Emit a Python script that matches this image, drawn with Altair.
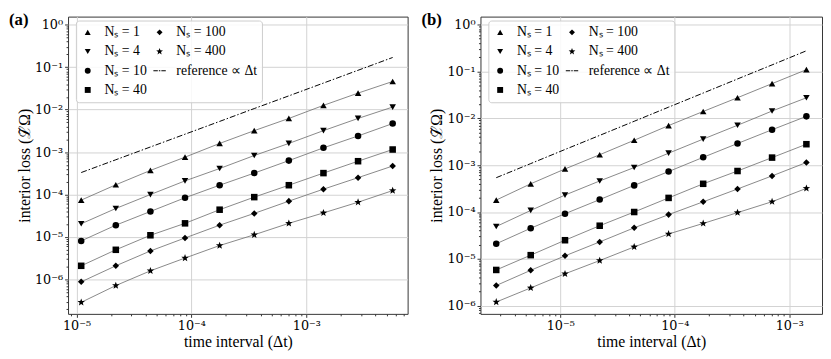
import math
import altair as alt
import pandas as pd

FONT = "Liberation Serif"
TICKFONT = "DejaVu Serif"

# ---------------- data ----------------
SERIES = ["Nₛ = 1", "Nₛ = 4", "Nₛ = 10", "Nₛ = 40", "Nₛ = 100", "Nₛ = 400"]
REF_LABEL = "reference ∝ Δt"

dt_a = [1.1e-5, 2.2e-5, 4.4e-5, 8.8e-5, 1.76e-4, 3.52e-4, 7.04e-4, 1.408e-3, 2.816e-3, 5.632e-3]
a_ns1 = [7.4e-5, 1.7e-4, 3.7e-4, 7.6e-4, 1.6e-3, 3.2e-3, 6.2e-3, 1.26e-2, 2.45e-2, 4.6e-2]
a_ns4 = [2.05e-5, 4.7e-5, 1.0e-4, 2.1e-4, 4.1e-4, 8.3e-4, 1.6e-3, 3.2e-3, 6.2e-3, 1.15e-2]
a_ns10 = [8.1e-6, 1.9e-5, 4.0e-5, 8.4e-5, 1.66e-4, 3.2e-4, 6.3e-4, 1.26e-3, 2.4e-3, 4.7e-3]
a_ns40 = [2.1e-6, 5.0e-6, 1.1e-5, 2.1e-5, 4.4e-5, 8.7e-5, 1.66e-4, 3.2e-4, 6.1e-4, 1.15e-3]
a_ns100 = [8.8e-7, 2.1e-6, 4.7e-6, 9.5e-6, 1.9e-5, 3.6e-5, 7.0e-5, 1.34e-4, 2.5e-4, 4.7e-4]
a_ns400 = [2.9e-7, 7.2e-7, 1.6e-6, 3.2e-6, 6.3e-6, 1.13e-5, 2.1e-5, 3.7e-5, 6.6e-5, 1.24e-4]
a_ref = [3.3e-4, 6.6e-4, 1.32e-3, 2.64e-3, 5.28e-3, 1.06e-2, 2.11e-2, 4.22e-2, 8.45e-2, 1.69e-1]

dt_b = [2.76e-6, 5.52e-6, 1.1e-5, 2.21e-5, 4.42e-5, 8.83e-5, 1.77e-4, 3.53e-4, 7.07e-4, 1.41e-3]
b_ns1 = [1.8e-4, 4.0e-4, 8.3e-4, 1.67e-3, 3.4e-3, 7.0e-3, 1.4e-2, 2.75e-2, 5.5e-2, 1.09e-1]
b_ns4 = [4.9e-5, 1.08e-4, 2.3e-4, 4.6e-4, 8.9e-4, 1.8e-3, 3.6e-3, 7.1e-3, 1.43e-2, 2.74e-2]
b_ns10 = [2.1e-5, 4.5e-5, 9.2e-5, 1.84e-4, 3.7e-4, 7.3e-4, 1.47e-3, 2.9e-3, 5.7e-3, 1.1e-2]
b_ns40 = [5.8e-6, 1.2e-5, 2.5e-5, 5.1e-5, 1.0e-4, 2.0e-4, 4.0e-4, 7.5e-4, 1.45e-3, 2.8e-3]
b_ns100 = [2.7e-6, 5.7e-6, 1.16e-5, 2.3e-5, 4.6e-5, 8.8e-5, 1.65e-4, 3.1e-4, 5.9e-4, 1.14e-3]
b_ns400 = [1.2e-6, 2.4e-6, 4.8e-6, 9.2e-6, 1.8e-5, 3.4e-5, 5.7e-5, 9.7e-5, 1.66e-4, 3.2e-4]
b_ref = [5.4e-4, 1.08e-3, 2.16e-3, 4.32e-3, 8.64e-3, 1.73e-2, 3.46e-2, 6.91e-2, 1.38e-1, 2.76e-1]

x_domain_a = [8.45e-6, 7.6e-3]
y_domain_a = [1.55e-7, 1.55]
x_domain_b = [2.01e-6, 1.93e-3]
y_domain_b = [6.7e-7, 1.48]

# ---------------- styling helpers ----------------
def star_path():
    pts = []
    for i in range(10):
        r = 1.2 if i % 2 == 0 else 0.5
        a = math.radians(-90 + 36 * i)
        pts.append(f"{r*math.cos(a):.3f},{r*math.sin(a):.3f}")
    return "M" + "L".join(pts) + "Z"

DASHDOT = ("M-2.1,-0.17H-0.6V0.17H-2.1Z M-0.25,-0.17H0.25V0.17H-0.25Z "
           "M0.6,-0.17H2.1V0.17H0.6Z")

LEGEND_ORDER = SERIES + [REF_LABEL]
SHAPE_OF = {
    "Nₛ = 1": "triangle-up",
    "Nₛ = 4": "triangle-down",
    "Nₛ = 10": "circle",
    "Nₛ = 40": "square",
    "Nₛ = 100": "diamond",
    "Nₛ = 400": star_path(),
    REF_LABEL: DASHDOT,
}
SUP = str.maketrans("-0123456789", "⁻⁰¹²³⁴⁵⁶⁷⁸⁹")

IS_MAJOR = "abs(log(datum.value)/LN10 - round(log(datum.value)/LN10)) < 0.001"


def pow_expr(lo, hi):
    expr = "''"
    for e in reversed(range(lo, hi + 1)):
        expr = (f"({IS_MAJOR} && round(log(datum.value)/LN10) == {e}) ? "
                f"'10{str(e).translate(SUP)}' : ({expr})")
    return expr


def tick_values(dom):
    lo = math.floor(math.log10(dom[0]))
    hi = math.ceil(math.log10(dom[1]))
    vals = []
    for e in range(lo, hi + 1):
        for m in range(1, 10):
            v = m * 10.0 ** e
            if dom[0] <= v <= dom[1]:
                vals.append(v)
    return vals, lo, hi


def log_axis(dom, title, orient):
    vals, lo, hi = tick_values(dom)
    return alt.Axis(
        values=vals, labelExpr=pow_expr(lo, hi), title=title,
        orient=orient, labelOverlap=False, labelFlush=False,
        gridOpacity={"condition": {"test": IS_MAJOR, "value": 1}, "value": 0},
        tickSize={"condition": {"test": IS_MAJOR, "value": 3.5}, "value": 2},
    )


def panel(dt, series_lists, ref, xdom, ydom, label):
    rows = []
    for name, vals in zip(SERIES, series_lists):
        for x, y in zip(dt, vals):
            rows.append({"dt": x, "loss": y, "series": name})
    df = pd.DataFrame(rows)
    ref_df = pd.DataFrame({"dt": dt, "loss": ref})

    xs = alt.Scale(type="log", domain=xdom, nice=False)
    ys = alt.Scale(type="log", domain=ydom, nice=False)

    x_main = alt.X("dt:Q", scale=xs, axis=log_axis(xdom, "time interval (Δt)", "bottom"))
    y_main = alt.Y("loss:Q", scale=ys, axis=log_axis(ydom, "interior loss (ℒ̃Ω)", "left"))

    lines = alt.Chart(df).mark_line(color="#6a6a6a", strokeWidth=0.8).encode(
        x=x_main, y=y_main, detail="series:N",
    )
    ref_line = alt.Chart(ref_df).mark_line(
        color="black", strokeWidth=1, strokeDash=[6, 2, 1.5, 2]).encode(
        x=alt.X("dt:Q", scale=xs), y=alt.Y("loss:Q", scale=ys),
    )
    points = alt.Chart(df).mark_point(filled=True, color="black", opacity=1, size=44).encode(
        x=alt.X("dt:Q", scale=xs),
        y=alt.Y("loss:Q", scale=ys),
        shape=alt.Shape("series:N",
                        scale=alt.Scale(domain=LEGEND_ORDER,
                                        range=[SHAPE_OF[k] for k in LEGEND_ORDER]),
                        legend=alt.Legend(orient="none", legendX=8, legendY=4, columns=2,
                                          title=None)),
    )
    lab = alt.Chart(pd.DataFrame({"t": [label]})).mark_text(
        font=FONT, fontSize=17, fontWeight="bold", align="left", baseline="alphabetic",
        color="black").encode(x=alt.value(-60), y=alt.value(9), text="t:N")

    return alt.layer(lines, ref_line, points, lab)


chart_a = panel(dt_a, [a_ns1, a_ns4, a_ns10, a_ns40, a_ns100, a_ns400], a_ref,
                x_domain_a, y_domain_a, "(a)").properties(width=345, height=302)
chart_b = panel(dt_b, [b_ns1, b_ns4, b_ns10, b_ns40, b_ns100, b_ns400], b_ref,
                x_domain_b, y_domain_b, "(b)").properties(width=347, height=302)

chart = alt.hconcat(chart_a, chart_b, spacing=12, padding=0).resolve_scale(
    x="independent", y="independent", shape="independent").resolve_legend(
    shape="independent").configure_view(
    stroke="#333333", strokeWidth=1).configure_axis(
    labelFont=TICKFONT, labelFontSize=13, labelColor="black",
    titleFont=FONT, titleFontSize=16, titleFontWeight="normal", titleColor="black",
    domain=False, gridColor="#d2d2d2", gridWidth=1, tickColor="#333333",
    labelPadding=2, titlePadding=2).configure_legend(
    labelFont=FONT, labelFontSize=14, labelColor="black", symbolSize=36,
    symbolFillColor="black", symbolStrokeWidth=0, padding=5, rowPadding=5.5,
    columnPadding=5, labelOffset=10, strokeColor="#cccccc", cornerRadius=3,
    fillColor="rgba(255,255,255,0.85)")

chart.save("out.html", embed_options={"renderer": "svg", "actions": False})
